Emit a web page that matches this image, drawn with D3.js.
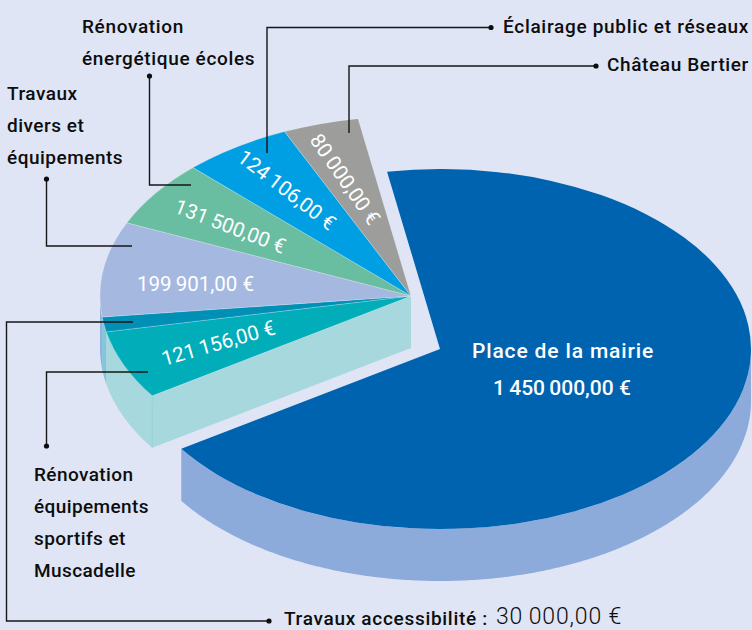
<!DOCTYPE html>
<html lang="fr"><head><meta charset="utf-8">
<script src="https://cdn.jsdelivr.net/npm/d3@7"></script>
<style>
html,body{margin:0;padding:0;background:#dfe5f4;overflow:hidden}
svg{display:block}
text{font-family:Roboto,sans-serif}
.lab{font-weight:500;font-size:19px;fill:#0d0d0d;letter-spacing:.7px}
.val{font-weight:400;font-size:20.5px;fill:#fff}
</style></head><body>
<svg id="c" width="752" height="630"></svg>
<script>
const categories = ["Place de la mairie","Rénovation équipements sportifs et Muscadelle","Travaux accessibilité","Travaux divers et équipements","Rénovation énergétique écoles","Éclairage public et réseaux","Château Bertier"];
const values = [1450000,121156,30000,199901,131500,124106,80000];
// angular span of each slice as actually drawn in the picture (degrees)
const sliceDegrees = [246.1,22.2,4.8,30.7,21.5,20.5,14.2];
const topColors = ["#0063af","#00adb9","#0090b5","#a5b8e0","#69bda0","#009fe3","#9d9d9c"];
const wallColors = ["#8dabda","#a7d8de","#82c6d8","#8fb2df",null,null,null];

const W=752,H=630,cx=411,cy=296,rx=311,ry=180,depth=52,explodeX=29,explodeY=53;
const svg=d3.select("#c");
svg.append("rect").attr("width",W).attr("height",H).attr("fill","#dfe5f4");

const rad=d=>d*Math.PI/180;
const pie=d3.pie().sort(null).startAngle(rad(-9.8)).endAngle(rad(350.2));
const arcs=pie(sliceDegrees);
const arcGen=d3.arc().innerRadius(0).outerRadius(rx);
const yScale=ry/rx;
const lineGen=d3.line();
const rimPoint=(a,ox,oy,dy)=>[ox+rx*Math.sin(a),oy-ry*Math.cos(a)+dy];

function drawWall(g,slice,i,ox,oy){
  if(!wallColors[i]) return;
  const from=Math.max(slice.startAngle,rad(90)), to=Math.min(slice.endAngle,rad(270));
  if(to<=from) return;
  const as=d3.range(from,to,0.01).concat([to]);
  const pts=as.map(a=>rimPoint(a,ox,oy,0)).concat(as.slice().reverse().map(a=>rimPoint(a,ox,oy,depth)));
  g.append("path").attr("d",lineGen(pts)+"Z").attr("fill",wallColors[i]);
}
function drawTop(g,slice,i,ox,oy){
  g.append("path").attr("transform",`translate(${ox},${oy}) scale(1,${yScale})`)
   .attr("d",arcGen(slice)).attr("fill",topColors[i])
   .attr("stroke",i===0?"none":"#ffffff").attr("stroke-opacity",.4).attr("stroke-width",.6)
   .style("vector-effect","non-scaling-stroke");
}
const pieG=svg.append("g");
// small group
const small=arcs.map((a,i)=>({a,i})).filter(d=>d.i>0);
small.forEach(d=>drawWall(pieG,d.a,d.i,cx,cy));
const s1=arcs[1].startAngle, p=rimPoint(s1,cx,cy,0), q=rimPoint(s1,cx,cy,depth);
pieG.append("path").attr("d",lineGen([[cx,cy],p,q,[cx,cy+depth]])+"Z").attr("fill",wallColors[1]);
pieG.append("path").attr("d",lineGen([p,q])).attr("stroke","#8fd0d8").attr("stroke-width",.8);
small.forEach(d=>drawTop(pieG,d.a,d.i,cx,cy));
// exploded slice
const bx=cx+explodeX,by=cy+explodeY;
drawWall(pieG,arcs[0],0,bx,by);
drawTop(pieG,arcs[0],0,bx,by);

// leaders: [path points], last one carries the dot
const leaders=[
 [[267,153],[267,27.5],[491,27.5]],
 [[349,133],[349,66],[596,66]],
 [[191,185],[149.5,185],[149.5,76]],
 [[132,246],[46.5,246],[46.5,179]],
 [[148,372],[46.5,372],[46.5,446]],
 [[133,322],[6.5,322],[6.5,621],[269,621]]
];
const lg=svg.append("g");
leaders.forEach(l=>{
  lg.append("path").attr("d",lineGen(l)).attr("fill","none").attr("stroke","#161616").attr("stroke-width",1.4);
  const e=l[l.length-1];
  lg.append("circle").attr("cx",e[0]).attr("cy",e[1]).attr("r",2.6).attr("fill","#0d0d0d");
});

// labels
const labelBlocks=[
 {x:82,y:33,ls:.65,lines:["Rénovation","énergétique écoles"]},
 {x:7,y:100,ls:.5,lines:["Travaux","divers et","équipements"]},
 {x:34,y:481,ls:.4,lines:["Rénovation","équipements","sportifs et","Muscadelle"]},
];
labelBlocks.forEach(b=>b.lines.forEach((t,i)=>
  svg.append("text").attr("class","lab").style("letter-spacing",b.ls+"px").attr("x",b.x).attr("y",b.y+i*32).text(t)));
svg.append("text").attr("class","lab").attr("x",503).attr("y",33).text(categories[5]);
svg.append("text").attr("class","lab").style("letter-spacing",".62px").attr("x",607).attr("y",71).text(categories[6]);

const fr=d3.formatLocale({decimal:",",thousands:"\u2009",grouping:[3],currency:["","\u00a0€"]});
const euro=v=>fr.format("$,.2f")(v);

svg.append("text").attr("class","lab").attr("x",284).attr("y",624.5).text(categories[2]+" :");
svg.append("text").attr("x",496).attr("y",624.4).attr("font-size",23).attr("font-weight",300).attr("fill","#0d0d0d").style("letter-spacing",".85px").text(euro(values[2]));

svg.append("text").attr("class","lab").attr("x",472).attr("y",358).style("fill","#fff").style("font-size","21px").style("letter-spacing",".85px").text(categories[0]);
svg.append("text").attr("class","val").attr("x",493).attr("y",395).style("font-weight",500).style("font-size","21px").text(euro(values[0]));

// rotated value labels [index, x, y, angle]
const valueLabels=[[3,137,291,0],[4,173,212,21],[5,236,160,37.5],[6,309,140,55],[1,164,366,-16]];
valueLabels.forEach(([i,x,y,r])=>{
  svg.append("text").attr("class","val").attr("transform",`translate(${x},${y}) rotate(${r})`).text(euro(values[i]));
});
</script></body></html>
